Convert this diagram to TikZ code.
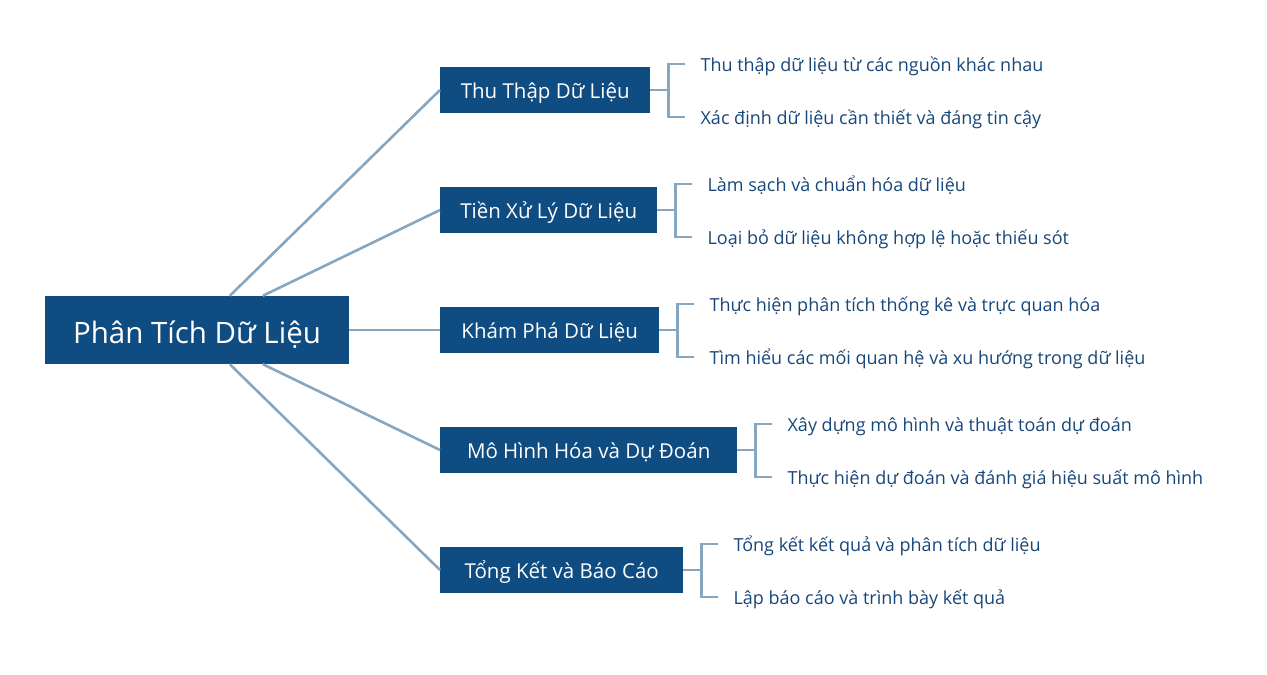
\documentclass[tikz,border=0pt]{standalone}
\usepackage{fontspec}
\setmainfont{Open Sans}
\usetikzlibrary{calc}
\definecolor{boxblue}{HTML}{0F4C81}
\definecolor{linecol}{HTML}{87A6BF}
\definecolor{childtxt}{HTML}{17477A}
\tikzset{
  rootbox/.style={fill=boxblue, text=white, font=\fontsize{29.5}{34}\selectfont, minimum width=304, minimum height=68, inner sep=0, text height=26, text depth=0},
  lvlbox/.style={fill=boxblue, text=white, font=\fontsize{20.5}{24}\selectfont, minimum height=46, inner sep=0, anchor=west, text height=16, text depth=0},
  child/.style={text=childtxt, font=\fontsize{18}{22}\selectfont, inner sep=0, anchor=west, text height=14, text depth=0},
  conn/.style={draw=linecol, line width=2.6pt}
}
\begin{document}
\begin{tikzpicture}[x=1pt,y=-1pt]
\useasboundingbox (0,0) rectangle (1267,675);
\node[rootbox] (root) at (197,330) {Phân Tích Dữ Liệu};
\node[lvlbox, minimum width=210] (b1) at (440,90) {Thu Thập Dữ Liệu};
\node[lvlbox, minimum width=217] (b2) at (440,210) {Tiền Xử Lý Dữ Liệu};
\node[lvlbox, minimum width=219] (b3) at (440,330) {Khám Phá Dữ Liệu};
\node[lvlbox, minimum width=297] (b4) at (440,450) {Mô Hình Hóa và Dự Đoán};
\node[lvlbox, minimum width=243] (b5) at (440,570) {Tổng Kết và Báo Cáo};

\coordinate (r1) at ($(root.north west)+(185,0)$);
\coordinate (r2) at ($(root.north west)+(218,0)$);
\coordinate (r4) at ($(root.south west)+(218,0)$);
\coordinate (r5) at ($(root.south west)+(185,0)$);
\draw[conn] (r1) -- (b1.west);
\draw[conn] (r2) -- (b2.west);
\draw[conn] (root.east) -- (b3.west);
\draw[conn] (r4) -- (b4.west);
\draw[conn] (r5) -- (b5.west);

\node[child] (c11) at ($(b1.east)+(50,-26)$) {Thu thập dữ liệu từ các nguồn khác nhau};
\node[child] (c12) at ($(b1.east)+(50,27)$) {Xác định dữ liệu cần thiết và đáng tin cậy};
\node[child] (c21) at ($(b2.east)+(50,-26)$) {Làm sạch và chuẩn hóa dữ liệu};
\node[child] (c22) at ($(b2.east)+(50,27)$) {Loại bỏ dữ liệu không hợp lệ hoặc thiếu sót};
\node[child] (c31) at ($(b3.east)+(50,-26)$) {Thực hiện phân tích thống kê và trực quan hóa};
\node[child] (c32) at ($(b3.east)+(50,27)$) {Tìm hiểu các mối quan hệ và xu hướng trong dữ liệu};
\node[child] (c41) at ($(b4.east)+(50,-26)$) {Xây dựng mô hình và thuật toán dự đoán};
\node[child] (c42) at ($(b4.east)+(50,27)$) {Thực hiện dự đoán và đánh giá hiệu suất mô hình};
\node[child] (c51) at ($(b5.east)+(50,-26)$) {Tổng kết kết quả và phân tích dữ liệu};
\node[child] (c52) at ($(b5.east)+(50,27)$) {Lập báo cáo và trình bày kết quả};

\foreach \i in {1,...,5}{
  \coordinate (j\i) at ($(b\i.east)+(18,0)$);
  \draw[conn] (b\i.east) -- (j\i);
  \draw[conn] ([xshift=-15]c\i1.west) -| (j\i) |- ([xshift=-15]c\i2.west);
}
\end{tikzpicture}
\end{document}
